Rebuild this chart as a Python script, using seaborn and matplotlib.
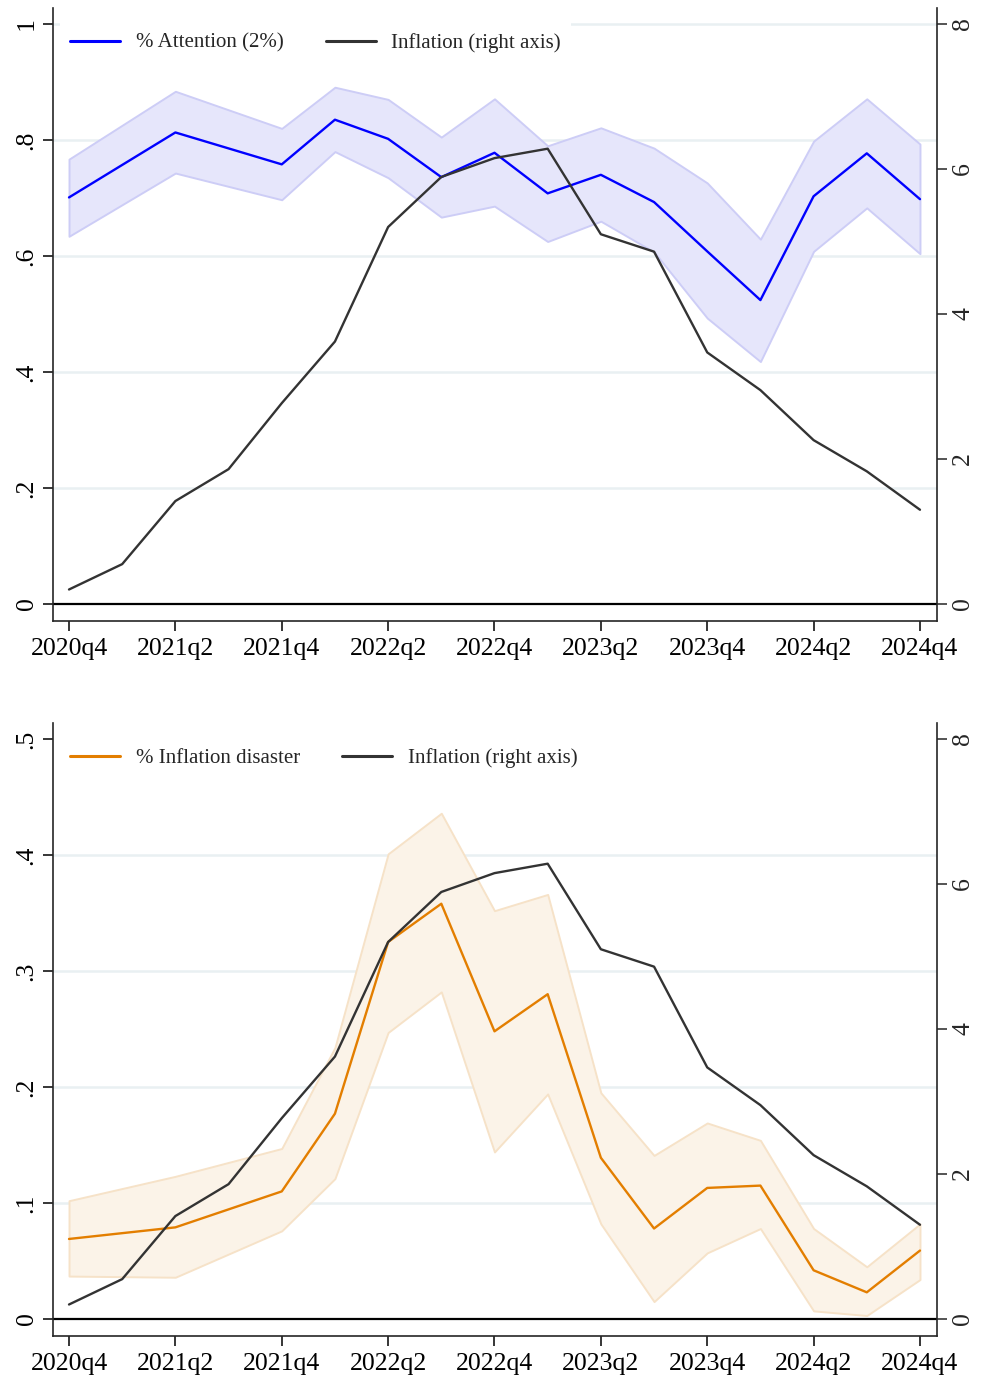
################################################################################
## Attention to inflation vs. realised inflation, two stacked panels
################################################################################

import numpy as np
import pandas as pd
import matplotlib
matplotlib.use("Agg")
import matplotlib.pyplot as plt
import seaborn as sns

sns.set_style("ticks")
plt.rcParams['font.family'] = ['Liberation Serif', 'DejaVu Serif']

############################################################################################################
# Step 0 - Data
nan = np.nan
quarters = ['2020q4', '2021q1', '2021q2', '2021q3', '2021q4', '2022q1', '2022q2', '2022q3', '2022q4',
            '2023q1', '2023q2', '2023q3', '2023q4', '2024q1', '2024q2', '2024q3', '2024q4']

inflation = [0.20, 0.55, 1.42, 1.86, 2.77, 3.62, 5.20, 5.89, 6.15, 6.28, 5.10, 4.86, 3.47, 2.95, 2.26, 1.83, 1.30]

attention = [0.701, nan, 0.813, nan, 0.758, 0.835, 0.802, 0.736, 0.778, 0.708, 0.740, 0.693, 0.608, 0.524, 0.703, 0.777, 0.698]
attention_hi = [0.767, nan, 0.884, nan, 0.820, 0.891, 0.870, 0.805, 0.871, 0.790, 0.821, 0.786, 0.726, 0.629, 0.798, 0.871, 0.793]
attention_lo = [0.634, nan, 0.743, nan, 0.697, 0.780, 0.735, 0.667, 0.686, 0.625, 0.660, 0.607, 0.493, 0.418, 0.608, 0.683, 0.604]

disaster = [0.069, nan, 0.079, nan, 0.110, 0.177, 0.325, 0.358, 0.248, 0.280, 0.139, 0.078, 0.113, 0.115, 0.042, 0.023, 0.059]
disaster_hi = [0.102, nan, 0.123, nan, 0.147, 0.234, 0.401, 0.436, 0.352, 0.366, 0.195, 0.141, 0.169, 0.154, 0.078, 0.045, 0.082]
disaster_lo = [0.037, nan, 0.036, nan, 0.076, 0.121, 0.247, 0.282, 0.144, 0.194, 0.082, 0.015, 0.057, 0.078, 0.007, 0.003, 0.034]

df = pd.DataFrame({'q': np.arange(len(quarters)), 'inflation': inflation,
                   'attention': attention, 'attention_hi': attention_hi, 'attention_lo': attention_lo,
                   'disaster': disaster, 'disaster_hi': disaster_hi, 'disaster_lo': disaster_lo})

FS_TICK = 18.5
FS_LEG = 15
GRID = '#E9F0F2'
INFL = '#333333'


############################################################################################################
# Step 1 - One panel
def panel(rect, col, label, color, band_face, band_edge, ymax, ystep, ylabels, grid_vals):
    ax = fig.add_axes(rect)
    ax2 = ax.twinx()

    # grid + zero line
    for g in grid_vals:
        ax.axhline(g, color=GRID, lw=1.8, zorder=0)
    ax.axhline(0, color='black', lw=1.6, zorder=1)

    band = df.dropna(subset=[col])
    ax.fill_between(band['q'], band[col + '_lo'], band[col + '_hi'],
                    facecolor=band_face, edgecolor=band_edge, lw=1.4, zorder=2)
    sns.lineplot(data=df, x='q', y=col, ax=ax, color=color, lw=1.7, label=label,
                 estimator=None, errorbar=None, legend=False, zorder=3)
    sns.lineplot(data=df, x='q', y='inflation', ax=ax2, color=INFL, lw=1.7,
                 label='Inflation (right axis)', estimator=None, errorbar=None, legend=False)

    # limits from the pixel geometry: axis line 17px below zero, top tick 16px below spine end
    px = rect[3] * 1382
    ppu = (px - 17 - 16) / ymax
    ax.set_ylim(-17 / ppu, (px - 17) / ppu)
    ppu2 = (px - 17 - 16) / 8
    ax2.set_ylim(-17 / ppu2, (px - 17) / ppu2)
    ax.set_xlim(-0.301, 16.32)

    ax.set_yticks(np.arange(0, ymax + 1e-9, ystep))
    ax.set_yticklabels(ylabels)
    ax2.set_yticks([0, 2, 4, 6, 8])
    ax2.set_yticklabels(['0', '2', '4', '6', '8'])
    ax.set_xticks(df['q'][::2])
    ax.set_xticklabels(quarters[::2])

    for a in (ax, ax2):
        a.set_xlabel('')
        a.set_ylabel('')
    ax.tick_params(axis='both', direction='out', length=7, width=1.1, labelsize=FS_TICK, colors='black')
    ax.tick_params(axis='y', labelrotation=90, pad=4)
    ax.tick_params(axis='x', pad=5)
    ax2.tick_params(axis='y', direction='out', length=7, width=1.1, labelsize=FS_TICK,
                    labelrotation=90, pad=4)
    for t in ax.get_yticklabels() + ax2.get_yticklabels():
        t.set_va('center')

    ax.spines['top'].set_visible(False)
    ax.spines['right'].set_visible(False)
    for s in ('top', 'left', 'bottom'):
        ax2.spines[s].set_visible(False)
    for s in ('left', 'bottom'):
        ax.spines[s].set_linewidth(1.2)
    ax2.spines['right'].set_linewidth(1.2)

    handles = [ax.get_lines()[-1], ax2.get_lines()[-1]]
    leg = ax2.legend(handles, [label, 'Inflation (right axis)'], loc='center left',
                     bbox_to_anchor=(0.008, 1 - 35 / px), ncol=2, frameon=True, fancybox=False,
                     facecolor='white', edgecolor='none', framealpha=1, fontsize=FS_LEG,
                     handlelength=2.4, handletextpad=0.75, columnspacing=2.0, borderpad=0.5,
                     borderaxespad=0)
    for ln in leg.get_lines():
        ln.set_linewidth(2.2)
    return ax, ax2


############################################################################################################
# Step 2 - Plot
fig = plt.figure(figsize=(9.81, 13.82), dpi=100)

panel([53 / 981, 1 - 621 / 1382, 884 / 981, 613 / 1382], 'attention', '% Attention (2%)',
      '#0000FF', '#E6E6FB', '#CDCDF6', 1.0, 0.2, ['0', '.2', '.4', '.6', '.8', '1'],
      [0.2, 0.4, 0.6, 0.8, 1.0])
panel([53 / 981, 1 - 1336 / 1382, 884 / 981, 613 / 1382], 'disaster', '% Inflation disaster',
      '#E37E00', '#FBF3E8', '#F6E2C8', 0.5, 0.1, ['0', '.1', '.2', '.3', '.4', '.5'],
      [0.1, 0.2, 0.3, 0.4])

plt.savefig('out.png', dpi=100)
